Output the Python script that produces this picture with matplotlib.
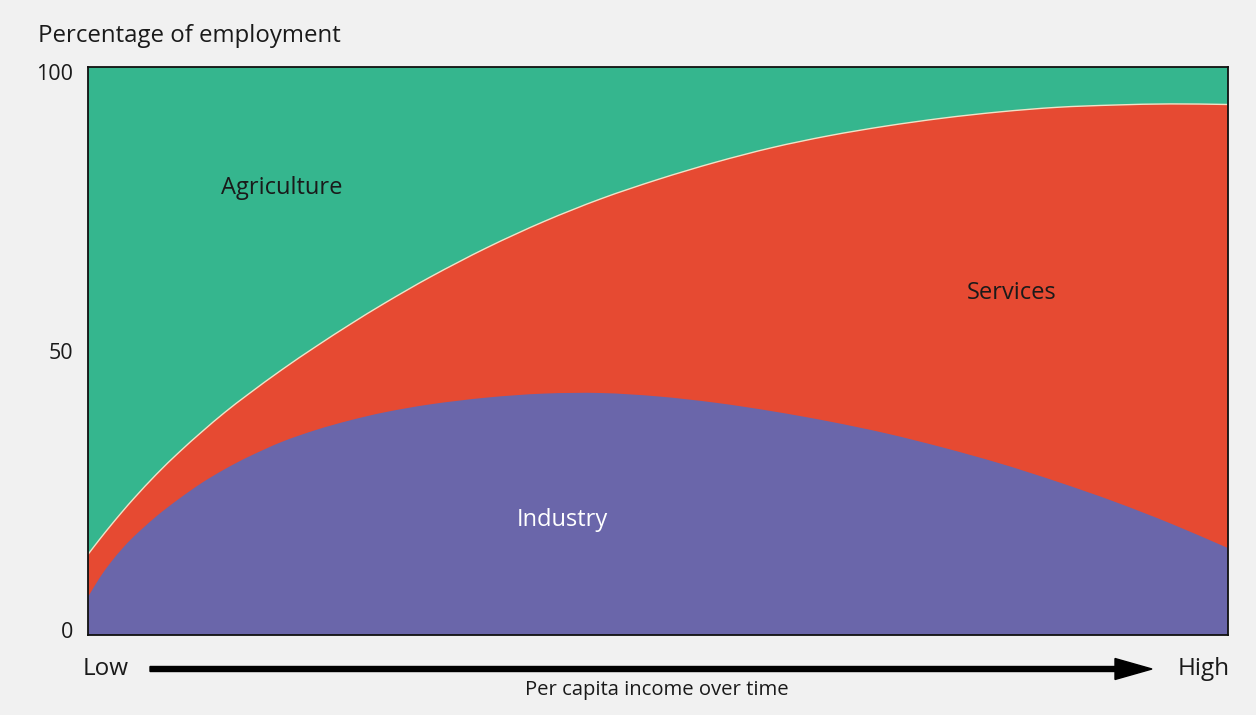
import matplotlib
matplotlib.use("Agg")
import matplotlib.pyplot as plt
from matplotlib.path import Path
from matplotlib.patches import PathPatch, FancyArrow
from matplotlib.transforms import ScaledTranslation
import numpy as np

# Position along the income path (0 = low, 100 = high)
income = [0, 1, 2, 3, 4, 6, 8, 10, 12, 14, 17, 20, 23, 26, 30, 35, 40, 45,
          50, 55, 60, 65, 70, 75, 80, 85, 90, 95, 100]

# Share of employment by sector (%)
industry = [6.7, 10.0, 12.8, 15.2, 17.3, 20.9, 24.0, 26.8, 29.2, 31.3, 34.0,
            36.1, 37.8, 39.2, 40.6, 41.8, 42.5, 42.6, 42.0, 40.9, 39.4, 37.6,
            35.5, 33.0, 30.2, 27.0, 23.5, 19.6, 15.3]
services = [7.5, 6.8, 6.5, 6.5, 6.7, 7.4, 8.2, 9.0, 10.0, 11.0, 12.7, 14.7,
            16.9, 19.2, 22.4, 26.4, 30.3, 34.2, 38.2, 42.3, 46.4, 50.3, 54.1,
            58.0, 61.9, 65.9, 69.8, 73.9, 78.1]
agriculture = [85.8, 83.2, 80.7, 78.3, 76.0, 71.7, 67.8, 64.2, 60.8, 57.7,
               53.3, 49.2, 45.3, 41.6, 37.0, 31.8, 27.2, 23.2, 19.8, 16.8,
               14.2, 12.1, 10.4, 9.0, 7.9, 7.1, 6.7, 6.5, 6.6]

sector_names = ["Industry", "Services", "Agriculture"]
y_ticks = [0, 50, 100]

plt.rcParams["font.family"] = ["Open Sans", "DejaVu Sans"]

BG = "#f1f1f1"
C_IND = "#6a66aa"
C_SER = "#e64a32"
C_AGR = "#35b68e"
INK = "#1a1a1a"


def smooth_curve(x, y):
    """Cubic Bezier vertices/codes running smoothly through (x, y)."""
    x = np.asarray(x, float)
    y = np.asarray(y, float)
    n = len(x)
    m = np.empty(n)
    m[0] = (y[1] - y[0]) / (x[1] - x[0])
    m[-1] = (y[-1] - y[-2]) / (x[-1] - x[-2])
    m[1:-1] = (y[2:] - y[:-2]) / (x[2:] - x[:-2])
    verts = [(x[0], y[0])]
    codes = [Path.MOVETO]
    for i in range(n - 1):
        h = x[i + 1] - x[i]
        verts += [(x[i] + h / 3, y[i] + m[i] * h / 3),
                  (x[i + 1] - h / 3, y[i + 1] - m[i + 1] * h / 3),
                  (x[i + 1], y[i + 1])]
        codes += [Path.CURVE4] * 3
    return verts, codes


def area_below(x, y):
    verts, codes = smooth_curve(x, y)
    verts += [(x[-1], 0), (x[0], 0), (x[0], y[0])]
    codes += [Path.LINETO, Path.LINETO, Path.CLOSEPOLY]
    return Path(verts, codes)


fig = plt.figure(figsize=(12.56, 7.15), dpi=100, facecolor=BG)
ax = fig.add_axes([0.0701, 0.1119, 0.9076, 0.7944])
ax.set_facecolor(BG)

# cumulative stack, drawn top layer first so each band overlays the next
cum_ind = np.array(industry)
cum_ser = cum_ind + np.array(services)
cum_agr = cum_ser + np.array(agriculture)
for top, col in [(cum_agr, C_AGR), (cum_ser, C_SER), (cum_ind, C_IND)]:
    ax.add_patch(PathPatch(area_below(income, top), facecolor=col,
                           edgecolor="none"))

# thin pale seam between services and agriculture
sv, sc = smooth_curve(income, cum_ser)
ax.add_patch(PathPatch(Path(sv, sc), facecolor="none", edgecolor="#efe3c8",
                       linewidth=1.0))

ax.set_xlim(0, 100)
ax.set_ylim(0, 100)
ax.set_xticks([])
ax.set_yticks(y_ticks)
ax.set_yticklabels([str(t) for t in y_ticks])
ax.tick_params(axis="y", length=0, pad=11, labelsize=15.5, colors=INK)
shifts = {0: 5, 50: 0, 100: -5}
for t, lab in zip(y_ticks, ax.get_yticklabels()):
    lab.set_transform(lab.get_transform() +
                      ScaledTranslation(0, shifts[t] / 100, fig.dpi_scale_trans))
for sp in ax.spines.values():
    sp.set_linewidth(1.3)
    sp.set_color("#111111")

# sector labels
ax.text(17.0, 78.7, sector_names[2], ha="center", va="center", fontsize=17,
        color=INK)
ax.text(81.0, 60.2, sector_names[1], ha="center", va="center", fontsize=17,
        color=INK)
ax.text(41.6, 20.2, sector_names[0], ha="center", va="center", fontsize=17,
        color="white")

# figure-level annotations
fig.text(38 / 1256, 1 - 42 / 715, "Percentage of employment", ha="left",
         va="baseline", fontsize=17.3, color=INK)

ay = 1 - 669 / 715
fig.text(106 / 1256, ay, "Low", ha="center", va="center", fontsize=17.5,
         color=INK)
fig.text(1204 / 1256, ay, "High", ha="center", va="center", fontsize=17.5,
         color=INK)
fig.patches.append(FancyArrow(
    150 / 1256, ay, (1115 - 150) / 1256, 0,
    width=5 / 715, head_width=21 / 715, head_length=37 / 1256,
    length_includes_head=False, color="black",
    transform=fig.transFigure, figure=fig))
fig.text(657 / 1256, 1 - 690 / 715, "Per capita income over time",
         ha="center", va="center", fontsize=14.6, color=INK)

fig.savefig("out.png", dpi=100, facecolor=BG)
